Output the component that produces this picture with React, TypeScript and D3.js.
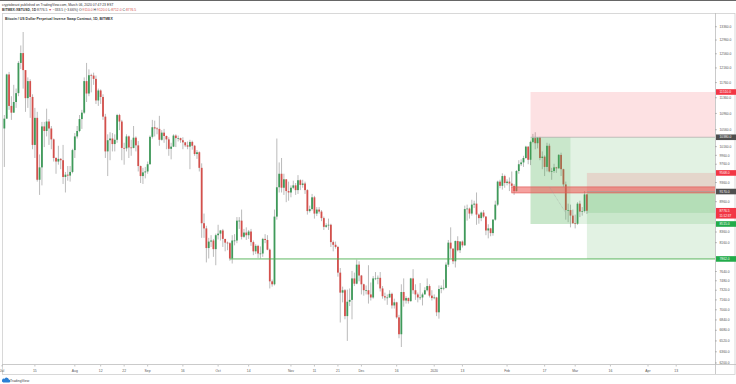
import React from "react";
import * as d3 from "d3";

// ---------- DATA ----------
const START_DATE = "2019-07-02";
const FIRST_OPEN = 10590;

const closes = [
  // Jul 2-31
  10830, 11980, 11150, 10980, 11250, 11480, 12300, 12580, 12100, 11350, 11800, 11380, 10200, 10850, 9420, 9690, 10640, 10530, 10760, 10590, 10330, 9900, 9820, 9880, 9850, 9480, 9530, 9510, 9590, 10080,
  // Aug
  10400, 10530, 10820, 10980, 11800, 11470, 11960, 11950, 11860, 11290, 11550, 11380, 10880, 10050, 10310, 10350, 10220, 10320, 10920, 10760, 10130, 10120, 10400, 10140, 10130, 10370, 10190, 9720, 9500, 9580, 9600,
  // Sep
  9760, 10390, 10620, 10590, 10580, 10320, 10490, 10410, 10330, 10110, 10160, 10420, 10360, 10360, 10310, 10260, 10190, 10160, 10270, 10180, 9990, 10030, 9680, 8530, 8430, 8060, 8180, 8200, 8040, 8300,
  // Oct
  8330, 8390, 8230, 8160, 8150, 7870, 8200, 8200, 8580, 8580, 8270, 8350, 8300, 8370, 8170, 8000, 8100, 7960, 7960, 8230, 8210, 8030, 7470, 7420, 8660, 9260, 9550, 9250, 9430, 9180, 9150,
  // Nov
  9250, 9300, 9200, 9410, 9310, 9340, 9200, 8770, 8810, 9050, 8720, 8800, 8760, 8630, 8460, 8490, 8500, 8170, 8120, 8080, 7620, 7280, 7320, 6900, 7130, 7160, 7520, 7430, 7760, 7570,
  // Dec
  7420, 7320, 7320, 7250, 7200, 7520, 7520, 7530, 7350, 7220, 7200, 7200, 7260, 7070, 7120, 6880, 6620, 7290, 7150, 7190, 7140, 7520, 7320, 7250, 7200, 7200, 7250, 7320, 7390, 7230, 7190,
  // Jan
  7200, 6960, 7340, 7360, 7360, 7760, 8160, 8050, 7820, 8190, 8020, 8180, 8110, 8810, 8820, 8720, 8900, 8920, 8700, 8630, 8740, 8660, 8390, 8430, 8340, 8600, 8900, 9380, 9290, 9500, 9350,
  // Feb
  9380, 9340, 9290, 9180, 9610, 9760, 9800, 9900, 10160, 9860, 10270, 10360, 10240, 10370, 9900, 9930, 9700, 10180, 9600, 9610, 9690, 9670, 9970, 9650, 9320, 8790, 8790, 8680, 8530,
  // Mar
  8520, 8920, 8760, 8770, 9110, 8776.5,
];

const highs = [
  10920, 12000, 12050, 11400, 11700, 11600, 12350, 12800, 13200, 12100, 11900, 11850, 11450, 11100, 11000, 9980, 10750, 10750, 11080, 10820, 10650, 10350, 9920, 10180, 9900, 10200, 9590, 9720, 9720, 10110,
  10480, 10650, 10920, 11050, 11900, 12300, 12120, 12000, 12030, 11950, 11600, 11580, 11450, 10950, 10450, 10500, 10480, 10450, 10950, 10950, 10800, 10250, 10450, 10420, 10320, 10650, 10400, 10290, 9730, 9680, 9700,
  9820, 10420, 10800, 10780, 10620, 10900, 10550, 10580, 10420, 10380, 10250, 10450, 10450, 10420, 10370, 10380, 10270, 10280, 10320, 10300, 10200, 10080, 10050, 9780, 8720, 8480, 8250, 8300, 8230, 8330,
  8500, 8400, 8420, 8230, 8180, 8170, 8300, 8320, 8650, 8650, 8800, 8420, 8450, 8400, 8420, 8200, 8130, 8120, 8090, 8250, 8320, 8300, 8050, 7500, 8800, 10350, 9800, 9900, 9550, 9420, 9380,
  9300, 9400, 9350, 9520, 9430, 9420, 9380, 9220, 8880, 9120, 9080, 8850, 8850, 8790, 8660, 8530, 8620, 8520, 8200, 8180, 8100, 7700, 7380, 7340, 7330, 7350, 7650, 7620, 7850, 7820,
  7580, 7430, 7400, 7750, 7450, 7560, 7630, 7570, 7630, 7390, 7280, 7250, 7320, 7280, 7180, 7130, 6920, 7420, 7520, 7220, 7200, 7530, 7680, 7420, 7280, 7440, 7280, 7370, 7520, 7420, 7320,
  7250, 7210, 7400, 7400, 7500, 7800, 8210, 8450, 8050, 8200, 8280, 8190, 8200, 8880, 8900, 8840, 9000, 8980, 9150, 8720, 8760, 8790, 8670, 8510, 8440, 8610, 8980, 9400, 9420, 9560, 9530,
  9430, 9470, 9600, 9330, 9630, 9850, 9870, 9950, 10180, 10170, 10300, 10460, 10500, 10380, 10390, 10050, 9960, 10250, 10230, 9680, 9770, 9700, 9990, 10020, 9660, 9380, 8920, 8900, 8800,
  8700, 8950, 8980, 8850, 9180, 9120,
];

const lows = [
  9700, 10830, 11050, 10800, 10980, 11100, 11400, 12130, 11600, 11000, 11100, 10850, 10100, 9900, 9380, 9100, 9300, 10150, 10400, 10200, 10100, 9820, 9550, 9750, 9650, 9330, 9150, 9400, 9380, 9560,
  9900, 10350, 10500, 10580, 10950, 11250, 11400, 11500, 11700, 11200, 11150, 11200, 10800, 9900, 9500, 9850, 10050, 10050, 10250, 10550, 9850, 9750, 10050, 9900, 9950, 10120, 10050, 9600, 9350, 9330, 9450,
  9550, 9750, 10350, 10400, 10450, 10180, 10300, 10250, 10100, 9950, 9870, 10150, 10150, 10280, 10250, 10100, 10150, 10100, 9650, 10090, 9950, 9880, 9600, 8250, 8250, 7800, 7870, 8080, 7900, 7750,
  8220, 8200, 8080, 8000, 8020, 7830, 7780, 8110, 8150, 8420, 8220, 8250, 8210, 8230, 8100, 7930, 7950, 7880, 7870, 7900, 8150, 8020, 7350, 7380, 7400, 8600, 9150, 9150, 9100, 8950, 8980,
  9050, 9220, 9100, 9120, 9200, 9250, 9120, 8700, 8740, 8780, 8620, 8670, 8720, 8570, 8400, 8440, 8400, 8080, 8000, 8050, 7550, 6800, 7120, 6850, 6520, 7060, 6850, 7390, 7420, 7470,
  7250, 7230, 7250, 7100, 7150, 7180, 7490, 7420, 7300, 7180, 7150, 7080, 7190, 7020, 7020, 6860, 6560, 6430, 7050, 7100, 7100, 7130, 7260, 7160, 7120, 7160, 7070, 7250, 7300, 7200, 7150,
  7170, 6900, 6860, 7270, 7320, 7350, 7720, 7880, 7770, 7710, 8000, 7970, 8070, 8100, 8580, 8620, 8680, 8830, 8500, 8520, 8570, 8630, 8300, 8240, 8280, 8290, 8580, 8870, 9240, 9210, 9250,
  9300, 9180, 9250, 9100, 9170, 9550, 9720, 9700, 9880, 9760, 9740, 10240, 10100, 10120, 9850, 9650, 9500, 9600, 9580, 9420, 9570, 9570, 9660, 9500, 9270, 8600, 8550, 8450, 8520,
  8430, 8500, 8650, 8680, 8740, 8712,
];

const timeTickDates = ["2019-07-01", "2019-07-15", "2019-08-01", "2019-08-12", "2019-08-22", "2019-09-01", "2019-09-16", "2019-10-01", "2019-10-14", "2019-11-01", "2019-11-11", "2019-11-21", "2019-12-01", "2019-12-16", "2020-01-01", "2020-01-13", "2020-02-01", "2020-02-17", "2020-03-01", "2020-03-16", "2020-04-01", "2020-04-13"];
const timeTickLabels = ["Jul", "15", "Aug", "12", "22", "Sep", "16", "Oct", "14", "Nov", "11", "21", "Dec", "16", "2020", "13", "Feb", "17", "Mar", "16", "Apr", "13"];

const priceTicks = [13760, 13360, 12960, 12560, 12160, 11760, 11360, 10960, 10560, 10360, 10160, 9960, 9760, 9560, 9360, 9160, 8960, 8760, 8560, 8360, 8160, 7960, 7800, 7640, 7480, 7320, 7160, 7000, 6840, 6680, 6520, 6360, 6200];

// drawings: rectangles (date range x price range)
const END_DATE = "2020-05-01";
const boxFrom = ["2020-02-11", "2020-02-11", "2020-02-11", "2020-03-06", "2020-03-06", "2020-03-06", "2020-02-03"];
const boxLo = [10380, 8515, 8515, 9170, 7862, 8734, 9141];
const boxHi = [11510, 10380, 10380, 9568, 9170, 9170, 9267];
const boxTo = [END_DATE, END_DATE, "2020-02-28", END_DATE, END_DATE, END_DATE, END_DATE];
const boxKind = ["stop", "target", "target", "stop", "target", "target", "level"];

const entryPrices = [10380, 9170];
const entryFrom = ["2020-02-11", "2020-03-06"];

const supportFrom = "2019-10-06";
const supportPrice = 7862;

const trendFrom = ["2020-02-19", 9267] as const;
const trendTo = ["2020-02-26", 8734] as const;

const tagPrices = [11510, 10380, 9568, 9170, 8515, 7862];
const tagKinds = ["stop", "entry", "stop", "entry", "target", "target"];

// ---------- COMPONENT ----------
const FONT = "'Liberation Sans', Arial, sans-serif";
const UP = "#3f9a5a";
const DOWN = "#d4504c";
const RED_TAG = "#f23645";
const GREEN_TAG = "#22ab4a";
const GREY_TAG = "#4f4f4f";

export default function App() {
  const W = 736, H = 384;
  const L = 2, R = 715, T = 13, B = 364;

  const x = d3
    .scaleUtc()
    .domain([new Date("2019-07-01"), new Date("2020-04-01")])
    .range([2, 648]);
  const y = d3.scaleLog().domain([6430, 13200]).range([347, 32]);

  const day = 86400000;
  const start = new Date(START_DATE).getTime();
  const candles = closes.map((c, i) => {
    const open = i === 0 ? FIRST_OPEN : closes[i - 1];
    return {
      date: new Date(start + i * day),
      open,
      close: c,
      high: Math.max(highs[i], open, c),
      low: Math.min(lows[i], open, c),
    };
  });
  const last = candles[candles.length - 1];
  const change = last.close - last.open;
  const pct = (change / last.open) * 100;

  const bw = 1.8;
  const fillFor = (k: string) =>
    k === "stop" ? "rgba(242,54,69,0.15)" : k === "target" ? "rgba(76,175,80,0.16)" : "rgba(239,83,80,0.55)";

  const tagColor = (k: string) => (k === "stop" ? RED_TAG : k === "target" ? GREEN_TAG : GREY_TAG);

  const tagYs = tagPrices.map((p) => y(p)).concat([y(last.close) + 2.5]);
  const visibleTicks = priceTicks.filter((p) => {
    const yy = y(p);
    return yy > T + 2 && yy < B + 1 && tagYs.every((ty) => Math.abs(ty - yy) > 5.5);
  });

  const f1 = (v: number) => v.toFixed(1);

  return (
    <svg
      width={W}
      height={H}
      style={{ position: "absolute", left: 0, top: 0, background: "#fff", display: "block" }}
      fontFamily={FONT}
    >
      <defs>
        <clipPath id="plot">
          <rect x={L} y={T} width={R - L} height={B - T} />
        </clipPath>
      </defs>
      <rect x={0} y={0} width={W} height={H} fill="#fff" />
      <line x1={0} x2={W} y1={0.5} y2={0.5} stroke="#666" strokeWidth={1} />

      {/* header */}
      <text x={2} y={5.6} fontSize={3.4} fill="#333">
        cryptobeast published on TradingView.com, March 06, 2020 07:47:23 EST
      </text>
      <text x={2} y={10.6} fontSize={3.4} fill="#333">
        <tspan fontWeight="bold">BITMEX:XBTUSD, 1D</tspan> {f1(last.close)} <tspan fill={DOWN}>▼</tspan>{" "}
        {change < 0 ? "−" : "+"}
        {f1(Math.abs(change))} ({change < 0 ? "−" : "+"}
        {Math.abs(pct).toFixed(2)}%) O:<tspan fill={DOWN}>{f1(last.open)}</tspan> H:
        <tspan fill={DOWN}>{f1(last.high)}</tspan> L:<tspan fill={DOWN}>{f1(last.low)}</tspan> C:
        <tspan fill={DOWN}>{f1(last.close)}</tspan>
      </text>

      {/* frame */}
      <rect x={L + 0.5} y={T + 0.5} width={W - L - 1.5} height={374 - T} fill="none" stroke="#cfcfcf" strokeWidth={0.8} />
      <line x1={R + 0.5} x2={R + 0.5} y1={T} y2={374} stroke="#bdbdbd" strokeWidth={0.8} />
      <line x1={L} x2={W} y1={B + 0.5} y2={B + 0.5} stroke="#bdbdbd" strokeWidth={0.8} />

      <text x={5} y={20} fontSize={3.5} fill="#333" fontWeight="bold">
        Bitcoin / US Dollar Perpetual Inverse Swap Contract, 1D, BITMEX
      </text>

      <g clipPath="url(#plot)">
        {/* candles */}
        {candles.map((c, i) => {
          const cx = x(c.date);
          const up = c.close >= c.open;
          const yTop = y(Math.max(c.open, c.close));
          const yBot = y(Math.min(c.open, c.close));
          return (
            <g key={i}>
              <line x1={cx} x2={cx} y1={y(c.high)} y2={y(c.low)} stroke="#9e9e9e" strokeWidth={0.7} />
              <rect
                x={cx - bw / 2}
                y={yTop}
                width={bw}
                height={Math.max(0.7, yBot - yTop)}
                fill={up ? UP : DOWN}
              />
            </g>
          );
        })}

        {/* drawings */}
        {boxFrom.map((d, i) => {
          const x0 = x(new Date(d));
          const x1 = x(new Date(boxTo[i]));
          const y0 = y(boxHi[i]);
          const y1 = y(boxLo[i]);
          const lvl = boxKind[i] === "level";
          return (
            <rect
              key={"b" + i}
              x={x0}
              y={y0}
              width={x1 - x0}
              height={y1 - y0}
              fill={fillFor(boxKind[i])}
              stroke={lvl ? "#e0605c" : "none"}
              strokeWidth={lvl ? 0.7 : 0}
            />
          );
        })}
        {entryPrices.map((p, i) => (
          <line
            key={"e" + i}
            x1={x(new Date(entryFrom[i]))}
            x2={R}
            y1={y(p)}
            y2={y(p)}
            stroke="#a0a0a0"
            strokeWidth={0.6}
          />
        ))}
        <line
          x1={x(new Date(supportFrom))}
          x2={R}
          y1={y(supportPrice)}
          y2={y(supportPrice)}
          stroke="#4caf50"
          strokeWidth={0.9}
        />
        <line
          x1={x(new Date(trendFrom[0]))}
          y1={y(trendFrom[1])}
          x2={x(new Date(trendTo[0]))}
          y2={y(trendTo[1])}
          stroke="#9a9a9a"
          strokeWidth={0.5}
          strokeDasharray="0.8,0.8"
        />
      </g>

      {/* price axis */}
      {visibleTicks.map((p) => (
        <g key={"pt" + p}>
          <line x1={R} x2={R + 2} y1={y(p)} y2={y(p)} stroke="#888" strokeWidth={0.5} />
          <text x={719.5} y={y(p)} dy="0.35em" fontSize={3.3} fill="#555">
            {f1(p)}
          </text>
        </g>
      ))}
      {tagPrices.map((p, i) => (
        <g key={"tag" + i}>
          <rect x={R + 1} y={y(p) - 2.8} width={20} height={5.6} fill={tagColor(tagKinds[i])} />
          <text x={719.5} y={y(p)} dy="0.35em" fontSize={3.3} fill="#fff">
            {f1(p)}
          </text>
        </g>
      ))}
      <g>
        <rect x={R + 1} y={y(last.close) - 2.8} width={20} height={10.6} fill={RED_TAG} />
        <text x={719.5} y={y(last.close)} dy="0.35em" fontSize={3.3} fill="#fff">
          {f1(last.close)}
        </text>
        <text x={719.5} y={y(last.close) + 5} dy="0.35em" fontSize={3.1} fill="#fff">
          11:12:37
        </text>
      </g>

      {/* time axis */}
      {timeTickDates.map((d, i) => {
        const xx = x(new Date(d));
        return (
          <g key={"tt" + i}>
            <line x1={xx} x2={xx} y1={B + 1} y2={B + 2.5} stroke="#888" strokeWidth={0.5} />
            <text x={xx} y={371.5} fontSize={3.4} fill="#555" textAnchor="middle">
              {timeTickLabels[i]}
            </text>
          </g>
        );
      })}

      {/* TradingView logo */}
      <g>
        <path
          d="M3.2,382.6 h5.6 a1.6,1.6 0 0 0 0,-3.2 a2.2,2.2 0 0 0 -4.1,-0.6 a1.9,1.9 0 0 0 -1.5,3.8 z"
          fill="#2a7fd4"
        />
        <text x={10} y={382} fontSize={3.5} fill="#444">
          TradingView
        </text>
      </g>
    </svg>
  );
}
